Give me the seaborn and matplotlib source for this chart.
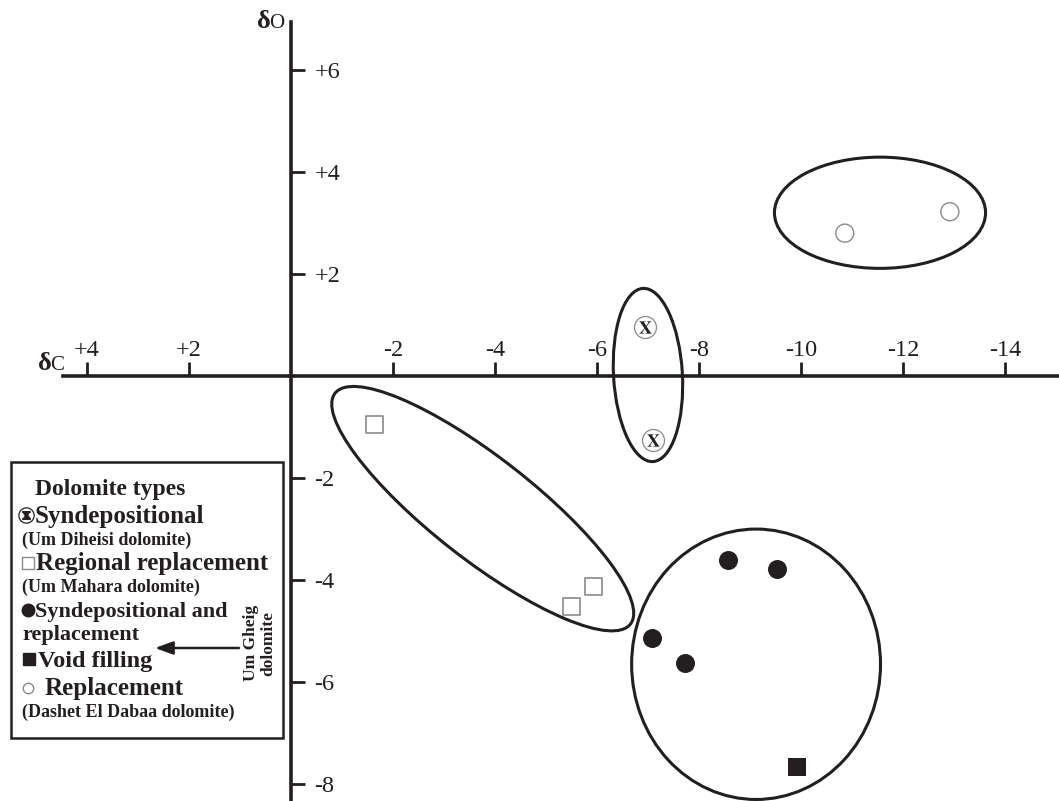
import matplotlib
matplotlib.use("Agg")
import matplotlib.pyplot as plt
import seaborn as sns
from matplotlib.patches import Ellipse, Rectangle

# %% data: delta C (x) and delta O (y) for each dolomite type
syndep_c = [-6.94, -7.10]
syndep_o = [0.96, -1.25]
regional_c = [-1.63, -5.94, -5.51]
regional_o = [-0.96, -4.12, -4.51]
syn_repl_c = [-8.57, -9.53, -7.08, -7.73]
syn_repl_o = [-3.61, -3.78, -5.14, -5.63]
void_c = [-9.92]
void_o = [-7.67]
repl_c = [-10.86, -12.92]
repl_o = [2.80, 3.22]

x_ticks = [4, 2, -2, -4, -6, -8, -10, -12, -14]
x_tick_labels = ['+4', '+2', '-2', '-4', '-6', '-8', '-10', '-12', '-14']
y_ticks = [6, 4, 2, -2, -4, -6, -8]
y_tick_labels = ['+6', '+4', '+2', '-2', '-4', '-6', '-8']

# group outlines (centre c, centre o, width, height, angle)
group_c = [-11.55, -7.0, -3.76, -9.12]
group_o = [3.2, 0.02, -2.6, -5.65]
group_w = [4.14, 3.4, 7.35, 4.88]
group_h = [2.18, 1.35, 2.0, 5.3]
group_angle = [0, 86.7, 38, 0]

# %% plot
sns.set_theme(style="white")
plt.rcParams['font.family'] = ['Liberation Serif', 'DejaVu Serif']
plt.rcParams['mathtext.fontset'] = 'stix'

ink = '#231f20'
grey = '#8a8a8a'

fig = plt.figure(figsize=(10.59, 8.01), dpi=100)
ax = fig.add_axes([0, 0, 1, 1])
ax.patch.set_alpha(0)

sns.scatterplot(x=syndep_c, y=syndep_o, marker='o', s=250, facecolor='white',
                edgecolor=grey, linewidth=0.9, ax=ax, zorder=3)
sns.scatterplot(x=syndep_c, y=syndep_o, marker=r'$\mathbf{X}$', s=80, color=ink,
                linewidth=0, ax=ax, zorder=4)
sns.scatterplot(x=regional_c, y=regional_o, marker='s', s=150, facecolor='none',
                edgecolor=grey, linewidth=1.2, ax=ax, zorder=3)
sns.scatterplot(x=syn_repl_c, y=syn_repl_o, marker='o', s=187, color=ink,
                linewidth=0, ax=ax, zorder=3)
sns.scatterplot(x=void_c, y=void_o, marker='s', s=150, color=ink,
                linewidth=0, ax=ax, zorder=3)
sns.scatterplot(x=repl_c, y=repl_o, marker='o', s=169, facecolor='none',
                edgecolor=grey, linewidth=1.0, ax=ax, zorder=3)

for cx, cy, w, h, a in zip(group_c, group_o, group_w, group_h, group_angle):
    ax.add_patch(Ellipse((cx, cy), w, h, angle=a, fill=False, lw=2.2, ec=ink, zorder=2))

ax.set_xlim(5.706, -15.06)
ax.set_ylim(-8.33, 7.37)

for s in ['top', 'right']:
    ax.spines[s].set_visible(False)
ax.spines['left'].set_position(('data', 0))
ax.spines['bottom'].set_position(('data', 0))
ax.spines['left'].set_bounds(-8.33, 6.94)
ax.spines['bottom'].set_bounds(4.47, -15.06)
for s in ['left', 'bottom']:
    ax.spines[s].set_linewidth(2.6)
    ax.spines[s].set_color(ink)

ax.set_xticks(x_ticks, x_tick_labels)
ax.set_yticks(y_ticks, y_tick_labels)
ax.tick_params(axis='both', bottom=True, left=True, direction='in', length=10, width=2,
               color=ink, labelsize=17.5, labelcolor=ink)
ax.tick_params(axis='x', pad=-11)
ax.tick_params(axis='y', pad=-17)
plt.setp(ax.get_xticklabels(), va='bottom')
plt.setp(ax.get_yticklabels(), ha='left')

# overlay in pixel units for the axis names and the key
ov = fig.add_axes([0, 0, 1, 1])
ov.set_xlim(0, 1059)
ov.set_ylim(801, 0)
ov.axis('off')
ov.patch.set_alpha(0)

ov.text(38, 370, 'δ', fontsize=19, fontweight='bold', color=ink, va='baseline')
ov.text(50, 370, 'C', fontsize=15, color=ink, va='baseline')
ov.text(257, 28, 'δ', fontsize=19, fontweight='bold', color=ink, va='baseline')
ov.text(269, 28, 'O', fontsize=15, color=ink, va='baseline')

ov.add_patch(Rectangle((11, 462), 272, 276, fill=False, lw=1.8, ec=ink))

key = [
    (35, 495, 'Dolomite types', 17),
    (35, 523, 'Syndepositional', 18),
    (22, 545, '(Um Diheisi dolomite)', 13),
    (36, 570, 'Regional replacement', 18),
    (22, 592, '(Um Mahara dolomite)', 13),
    (35, 617, 'Syndepositional and', 16),
    (22, 640, 'replacement', 16),
    (38, 667, 'Void filling', 17.5),
    (45, 695, 'Replacement', 18),
    (22, 717, '(Dashet El Dabaa dolomite)', 13),
]
for kx, ky, label, size in key:
    ov.text(kx, ky, label, fontsize=size, fontweight='bold', color=ink, va='baseline')

ov.plot(26, 515, marker='o', ms=11, mfc='white', mec=ink, mew=0.9)
ov.plot(26, 515, marker=r'$\mathbf{x}$', ms=5.5, color=ink)
ov.plot(28, 563, marker='s', ms=8.5, mfc='white', mec=grey, mew=1.0)
ov.plot(28, 610, marker='o', ms=9, color=ink)
ov.plot(29, 659, marker='s', ms=8.5, color=ink)
ov.plot(28, 688, marker='o', ms=7.5, mfc='white', mec=grey, mew=1.0)

ov.annotate('', xy=(155, 648), xytext=(239, 648),
            arrowprops=dict(arrowstyle='-|>,head_length=0.6,head_width=0.22',
                            lw=1.8, color=ink, mutation_scale=18, shrinkA=0, shrinkB=0))
ov.text(260, 643, 'Um Gheig\ndolomite', rotation=90, fontsize=12.5, fontweight='bold',
        color=ink, ha='center', va='center', multialignment='center', linespacing=1.1)

fig.savefig('out.png', dpi=100)
